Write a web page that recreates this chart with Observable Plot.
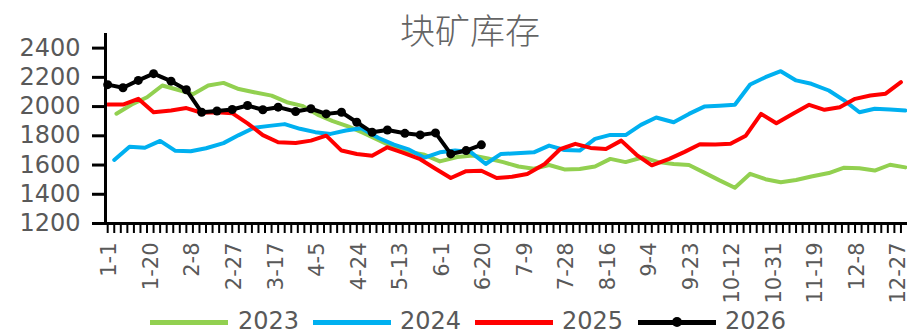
<!DOCTYPE html>
<html>
<head>
<meta charset="utf-8">
<script src="https://cdn.jsdelivr.net/npm/d3@7"></script>
<script src="https://cdn.jsdelivr.net/npm/@observablehq/plot@0.6"></script>
<style>
  html, body { margin: 0; padding: 0; background: #fff; }
  #wrap { position: relative; width: 907px; height: 335px; overflow: hidden; font-family: "DejaVu Sans", sans-serif; }
  #chart, #ticks { position: absolute; left: 0; top: 0; }
  #chart svg { font-family: "DejaVu Sans", sans-serif; }
  #ticks svg { background: none !important; }
  #title { position: absolute; left: 360px; width: 220px; top: 10px; text-align: center;
           font-family: "Noto Sans CJK SC", sans-serif; font-size: 35px; line-height: 37px; color: #646464; font-weight: 300; }
  .sw { position: absolute; height: 5px; top: 320px; }
  .lt { position: absolute; top: 309px; font-size: 24px; line-height: 24px; color: #595959; }
  .ldot { position: absolute; width: 10px; height: 10px; border-radius: 50%; background: #000; top: 317px; }
</style>
</head>
<body>
<div id="wrap">
  <div id="chart"></div>
  <div id="ticks"></div>
  <div id="title"></div>
  <div id="legend"></div>
</div>
<script>
// ---- data ----
const title = "块矿库存";
const seriesNames = ["2023", "2024", "2025", "2026"];
const seriesColors = ["#92D050", "#00B0F0", "#FF0000", "#000000"];

// day of year (0 = 1-1) for each weekly reading
const days2023 = [4,11,18,25,32,39,46,53,60,67,75,82,89,96,103,110,117,124,131,138,145,152,160,167,174,181,188,195,202,209,216,223,230,237,245,252,259,266,273,280,287,294,301,308,315,322,330,337,344,351,358,365];
const vals2023 = [1951,2014,2064,2144,2115,2085,2144,2162,2120,2098,2075,2030,2005,1945,1900,1865,1820,1770,1720,1690,1670,1625,1655,1665,1645,1620,1590,1575,1600,1570,1573,1590,1642,1620,1653,1620,1607,1600,1548,1495,1445,1540,1503,1482,1498,1522,1545,1582,1578,1562,1602,1584];

const days2024 = [3,10,17,24,31,38,45,53,60,67,74,81,88,95,102,109,116,124,131,138,145,152,159,166,173,180,187,195,202,209,216,223,230,237,244,251,259,266,273,280,287,294,301,308,315,322,330,337,344,351,358,365];
const vals2024 = [1635,1725,1718,1765,1697,1694,1715,1750,1805,1855,1868,1880,1848,1825,1813,1836,1852,1785,1740,1705,1650,1687,1699,1690,1607,1676,1680,1687,1733,1703,1699,1779,1806,1805,1875,1925,1893,1950,2000,2005,2012,2151,2201,2242,2179,2156,2110,2042,1961,1985,1980,1973];

const days2025 = [0,7,14,21,29,36,43,50,57,64,71,78,86,93,100,107,114,121,128,135,143,150,157,164,171,178,185,192,200,207,214,221,228,235,242,249,257,264,271,278,285,292,299,306,314,321,328,335,342,349,356,363];
const vals2025 = [2014,2014,2053,1961,1973,1990,1958,1961,1955,1885,1805,1756,1751,1767,1801,1699,1676,1664,1721,1685,1640,1575,1511,1558,1561,1511,1520,1539,1607,1708,1745,1717,1710,1767,1670,1598,1642,1690,1742,1740,1745,1801,1950,1886,1955,2012,1978,1996,2053,2076,2088,2167];

const days2026 = [0,7,14,21,29,36,43,50,57,64,71,78,86,93,100,107,114,121,128,136,143,150,157,164,171];
const vals2026 = [2150,2129,2179,2225,2174,2115,1961,1970,1980,2007,1978,1996,1966,1985,1950,1961,1893,1824,1840,1817,1806,1820,1676,1699,1738];

const xLabelDays = [0,19,38,57,76,95,114,133,152,171,190,209,228,247,266,285,304,323,342,361];
const xLabels = ["1-1","1-20","2-8","2-27","3-17","4-5","4-24","5-13","6-1","6-20","7-9","7-28","8-16","9-4","9-23","10-12","10-31","11-19","12-8","12-27"];
const xMinorTickDays = d3.range(0, 366, 3);
const yTicks = [1200,1400,1600,1800,2000,2200,2400];

// ---- build table ----
const allDays = [days2023, days2024, days2025, days2026];
const allVals = [vals2023, vals2024, vals2025, vals2026];
const rows = [];
seriesNames.forEach((name, k) => {
  allDays[k].forEach((d, i) => rows.push({ year: name, day: d, value: allVals[k][i] }));
});
const rows2026 = rows.filter(r => r.year === "2026");

const frame = { width: 907, height: 335, marginLeft: 105, marginRight: 0, marginTop: 33, marginBottom: 112 };

const chart = Plot.plot({
  ...frame,
  x: { domain: [-1, 366] },
  y: { domain: [1200, 2500] },
  color: { domain: seriesNames, range: seriesColors },
  marks: [
    Plot.axisY({ ticks: yTicks, tickSize: 0, tickPadding: 25, color: "#595959", fontFamily: "DejaVu Sans",
                 fontSize: 24, label: null, tickFormat: d => String(d) }),
    Plot.axisX({ ticks: xLabelDays, tickSize: 0, tickPadding: 19, tickRotate: -90, fontSize: 21, color: "#595959",
                 fontFamily: "DejaVu Sans", dx: 2, label: null, tickFormat: d => xLabels[xLabelDays.indexOf(d)] }),
    Plot.line(rows, { x: "day", y: "value", z: "year", stroke: "year", strokeWidth: 4,
                      strokeLinejoin: "round", strokeLinecap: "round" }),
    Plot.dot(rows2026, { x: "day", y: "value", r: 4.5, fill: "#000", stroke: "none" }),
    Plot.ruleX([-1], { stroke: "#000", strokeWidth: 3 }),
    Plot.ruleY([1200], { stroke: "#000", strokeWidth: 3 })
  ]
});
document.getElementById("chart").appendChild(chart);

// tick marks in an overlay plot with identical scales
const tickLayer = Plot.plot({
  ...frame,
  x: { domain: [-1, 366] },
  y: { domain: [1200, 2500] },
  marks: [
    Plot.axisY({ ticks: yTicks, tickSize: 13, strokeWidth: 3, color: "#000", tickFormat: () => " ", label: null }),
    Plot.axisX({ ticks: xMinorTickDays, tickSize: 10, strokeWidth: 2, color: "#000", tickFormat: () => " ", label: null })
  ]
});
document.getElementById("ticks").appendChild(tickLayer);

document.getElementById("title").textContent = title;

// ---- legend ----
const legend = document.getElementById("legend");
const legendPos = [
  { line: 150, text: 238 },
  { line: 313, text: 400 },
  { line: 475, text: 562 },
  { line: 638, text: 725 }
];
seriesNames.forEach((name, k) => {
  const sw = document.createElement("div");
  sw.className = "sw";
  sw.style.left = legendPos[k].line + "px";
  sw.style.width = "78px";
  sw.style.background = seriesColors[k];
  legend.appendChild(sw);
  if (name === "2026") {
    const dt = document.createElement("div");
    dt.className = "ldot";
    dt.style.left = (legendPos[k].line + 34) + "px";
    legend.appendChild(dt);
  }
  const t = document.createElement("div");
  t.className = "lt";
  t.style.left = legendPos[k].text + "px";
  t.textContent = name;
  legend.appendChild(t);
});
</script>
</body>
</html>
